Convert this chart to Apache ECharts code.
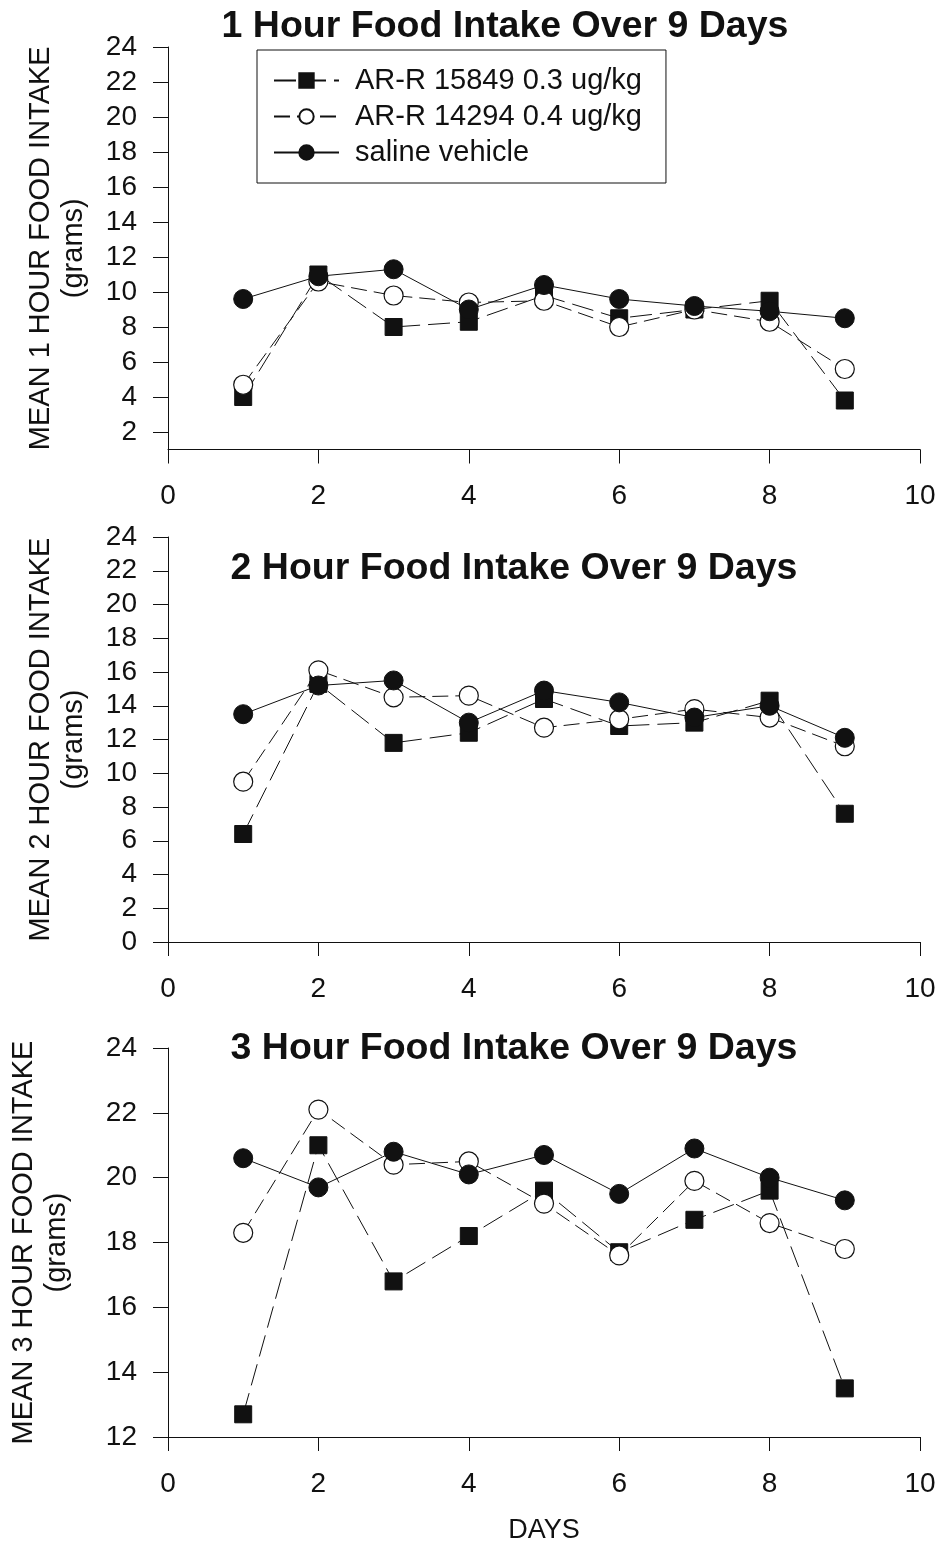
<!DOCTYPE html>
<html>
<head>
<meta charset="utf-8">
<script src="https://cdn.jsdelivr.net/npm/echarts@6/dist/echarts.min.js"></script>
<style>
html,body{margin:0;padding:0;background:#fff;}
#c{width:938px;height:1559px;}
</style>
</head>
<body>
<div id="c"></div>
<script>
// ---- data ----
var days = [1, 2, 3, 4, 5, 6, 7, 8, 9];
var seriesNames = ['AR-R 15849 0.3 ug/kg', 'AR-R 14294 0.4 ug/kg', 'saline vehicle'];

// 1 hour
var h1_15849 = [4.0, 11.0, 8.0, 8.3, 9.8, 8.5, 9.0, 9.5, 3.8];
var h1_14294 = [4.7, 10.6, 9.8, 9.4, 9.5, 8.0, 9.0, 8.3, 5.6];
var h1_saline = [9.6, 10.9, 11.3, 9.0, 10.4, 9.6, 9.2, 8.9, 8.5];

// 2 hour
var h2_15849 = [6.4, 15.3, 11.8, 12.4, 14.4, 12.8, 13.0, 14.3, 7.6];
var h2_14294 = [9.5, 16.1, 14.5, 14.6, 12.7, 13.2, 13.8, 13.3, 11.6];
var h2_saline = [13.5, 15.2, 15.5, 13.0, 14.9, 14.2, 13.3, 14.0, 12.1];

// 3 hour
var h3_15849 = [12.7, 21.0, 16.8, 18.2, 19.6, 17.7, 18.7, 19.6, 13.5];
var h3_14294 = [18.3, 22.1, 20.4, 20.5, 19.2, 17.6, 19.9, 18.6, 17.8];
var h3_saline = [20.6, 19.7, 20.8, 20.1, 20.7, 19.5, 20.9, 20.0, 19.3];

var panelTitles = ['1 Hour Food Intake Over 9 Days', '2 Hour Food Intake Over 9 Days', '3 Hour Food Intake Over 9 Days'];
var yNames = ['MEAN 1 HOUR FOOD INTAKE\n(grams)', 'MEAN 2 HOUR FOOD INTAKE\n(grams)', 'MEAN 3 HOUR FOOD INTAKE\n(grams)'];
var xLabelName = 'DAYS';
var y1Ticks = [2, 4, 6, 8, 10, 12, 14, 16, 18, 20, 22, 24];

// ---- chart ----
var FONT = 'Liberation Sans, Arial, Helvetica, sans-serif';
function pairs(vals) { return days.map(function (d, i) { return [d, vals[i]]; }); }

var grids = [
  { left: 168, top: 47, width: 752, height: 402.5, outerBoundsMode: 'none', containLabel: false },
  { left: 168, top: 537, width: 752, height: 405, outerBoundsMode: 'none', containLabel: false },
  { left: 168, top: 1048, width: 752, height: 389, outerBoundsMode: 'none', containLabel: false }
];

var axisLineStyle = { color: '#111', width: 1 };

function xAxis(idx) {
  return {
    type: 'value', gridIndex: idx, min: 0, max: 10, interval: 2,
    axisLine: { show: true, onZero: false, lineStyle: axisLineStyle },
    axisTick: { show: true, inside: false, length: 14, lineStyle: axisLineStyle },
    splitLine: { show: false },
    axisLabel: { fontSize: 28, color: '#111', fontFamily: FONT, margin: 33 }
  };
}
function yAxis(idx, min, max, gap) {
  var a = {
    type: 'value', gridIndex: idx, min: min, max: max,
    name: yNames[idx], nameLocation: 'middle', nameRotate: 90, nameGap: gap,
    nameTextStyle: { fontSize: 29, color: '#111', fontFamily: FONT, lineHeight: 33, align: 'center' },
    axisLine: { show: true, onZero: false, lineStyle: axisLineStyle },
    axisTick: { show: true, inside: false, length: 15, lineStyle: axisLineStyle },
    splitLine: { show: false },
    axisLabel: { fontSize: 28, color: '#111', fontFamily: FONT, margin: 31 }
  };
  if (idx === 0) {
    a.axisLabel.customValues = y1Ticks;
    a.axisTick.customValues = y1Ticks;
  } else {
    a.interval = 2;
  }
  return a;
}

var styles = [
  { symbol: 'rect', symbolSize: 17, itemStyle: { color: '#111', borderColor: '#111', borderWidth: 1 }, lineStyle: { color: '#111', width: 1, type: [22, 8] }, z: 2 },
  { symbol: 'circle', symbolSize: 19, itemStyle: { color: '#fff', borderColor: '#111', borderWidth: 1.2 }, lineStyle: { color: '#111', width: 1, type: [16, 7] }, z: 3 },
  { symbol: 'circle', symbolSize: 19, itemStyle: { color: '#111', borderColor: '#111', borderWidth: 1 }, lineStyle: { color: '#111', width: 1, type: 'solid' }, z: 4 }
];

var panelData = [
  [h1_15849, h1_14294, h1_saline],
  [h2_15849, h2_14294, h2_saline],
  [h3_15849, h3_14294, h3_saline]
];

var series = [];
panelData.forEach(function (set, p) {
  set.forEach(function (vals, s) {
    var st = styles[s];
    series.push({
      type: 'line', name: seriesNames[s], xAxisIndex: p, yAxisIndex: p,
      data: pairs(vals), symbol: st.symbol, symbolSize: st.symbolSize,
      showAllSymbol: true, itemStyle: st.itemStyle, lineStyle: st.lineStyle,
      z: st.z, animation: false, emphasis: { disabled: true }
    });
  });
});

var titleCenters = [[505, 27], [514, 569], [514, 1049]];
var graphics = panelTitles.map(function (t, i) {
  return {
    type: 'text', x: titleCenters[i][0], y: titleCenters[i][1],
    style: { text: t, fontSize: 37.5, fontWeight: 'bold', fill: '#111', fontFamily: FONT, align: 'center', verticalAlign: 'middle' }
  };
});
graphics.push({
  type: 'text', x: 544, y: 1531,
  style: { text: xLabelName, fontSize: 27, fill: '#111', fontFamily: FONT, align: 'center', verticalAlign: 'middle' }
});

var option = {
  backgroundColor: '#fff',
  animation: false,
  grid: grids,
  xAxis: [xAxis(0), xAxis(1), xAxis(2)],
  yAxis: [yAxis(0, 1, 24, 78), yAxis(1, 0, 24, 78), yAxis(2, 12, 24, 95)],
  legend: {
    data: seriesNames, orient: 'vertical', left: 257, top: 50,
    padding: [16, 24, 16, 16], itemGap: 7, itemWidth: 65, itemHeight: 18,
    borderColor: '#111', borderWidth: 1, backgroundColor: '#fff',
    textStyle: { fontSize: 29, color: '#111', fontFamily: FONT, padding: [0, 0, 0, 11] },
    selectedMode: false
  },
  graphic: graphics,
  series: series
};

var chart = echarts.init(document.getElementById('c'), null, { renderer: 'canvas' });
chart.setOption(option);
</script>
</body>
</html>
